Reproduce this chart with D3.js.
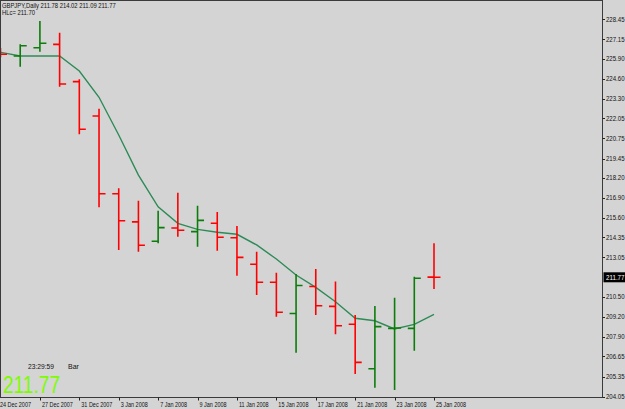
<!DOCTYPE html>
<html><head><meta charset="utf-8">
<script src="https://cdn.jsdelivr.net/npm/d3@7"></script>
<style>
html,body{margin:0;padding:0;background:#d4d4d4;}
svg{display:block;}
text{font-family:"Liberation Sans",Arial,sans-serif;}
</style></head>
<body>
<svg id="c" width="625" height="409"></svg>
<script>
// ---- data ----
const dates = ["24 Dec 2007","26 Dec 2007","27 Dec 2007","28 Dec 2007","31 Dec 2007","2 Jan 2008","3 Jan 2008","4 Jan 2008","7 Jan 2008","8 Jan 2008","9 Jan 2008","10 Jan 2008","11 Jan 2008","14 Jan 2008","15 Jan 2008","16 Jan 2008","17 Jan 2008","18 Jan 2008","21 Jan 2008","22 Jan 2008","23 Jan 2008","24 Jan 2008","25 Jan 2008"];
const open  = [226.40,226.08,226.61,226.83,224.42,222.20,217.17,215.35,214.10,214.96,214.72,215.26,214.33,212.61,211.45,209.43,211.17,209.89,208.73,205.86,208.47,208.47,211.78];
const high  = [226.60,226.83,228.34,227.58,224.57,222.67,217.52,216.72,216.08,217.24,216.40,215.99,215.09,213.42,212.07,211.98,212.31,211.49,209.33,209.91,210.45,211.81,213.97];
const low   = [226.00,225.39,226.36,224.09,221.02,216.30,213.53,213.42,213.97,214.39,213.75,213.49,211.87,210.63,209.22,206.89,209.33,208.08,205.52,204.63,204.48,207.02,211.01];
const close = [226.19,226.74,226.90,224.27,221.34,217.17,215.43,213.84,214.98,214.81,215.45,214.36,213.06,211.45,209.51,211.24,209.93,208.64,206.27,208.58,208.49,211.71,211.77];
const ma    = [226.32,226.08,226.08,226.08,225.11,223.41,220.97,218.38,216.33,215.26,214.87,214.68,214.55,213.86,212.95,211.92,211.12,210.19,209.12,208.96,208.43,208.73,209.38];
const priceTicks = ["228.45","227.15","225.90","224.60","223.30","222.05","220.75","219.45","218.20","216.90","215.60","214.35","213.05","210.50","209.20","207.90","206.65","205.35","204.05"];
const dateTickIdx = [0,2,4,6,8,10,12,14,16,18,20,22];
const dateTickLabels = ["24 Dec 2007","27 Dec 2007","31 Dec 2007","3 Jan 2008","7 Jan 2008","9 Jan 2008","11 Jan 2008","15 Jan 2008","17 Jan 2008","21 Jan 2008","23 Jan 2008","25 Jan 2008"];
const currentPrice = 211.77;
const legendLine1 = "GBPJPY,Daily  211.78 214.02 211.09 211.77";
const legendLine2 = "HLc= 211.70";
const timerText = "23:29:59", timerLabel = "Bar";

// ---- layout ----
const W = 625, H = 409;
const plotR = 602.5, plotB = 397.5;
const svg = d3.select("#c");
const x = d3.scaleLinear().domain([0, 22]).range([0.5, 434]);
const y = d3.scaleLinear().domain([204.05, 228.45]).range([396.7, 19.3]);

function squeeze(sel, f) {
  sel.each(function() {
    const L = this.getComputedTextLength();
    d3.select(this).attr("textLength", L * f).attr("lengthAdjust", "spacingAndGlyphs");
  });
}

svg.append("rect").attr("width", W).attr("height", H).attr("fill", "#d4d4d4");

svg.append("defs").append("clipPath").attr("id","clip")
  .append("rect").attr("x",1).attr("y",1).attr("width",plotR-1).attr("height",plotB-1);

const plot = svg.append("g").attr("clip-path","url(#clip)");

// MA line
plot.append("path")
  .datum(ma)
  .attr("fill","none")
  .attr("stroke","#2e8b57")
  .attr("stroke-width",1.4)
  .attr("d", d3.line().x((d,i)=>x(i)).y(d=>y(d)));

// OHLC bars
const bars = plot.selectAll("g.bar").data(dates.map((d,i)=>({i,o:open[i],h:high[i],l:low[i],c:close[i]})))
  .enter().append("g").attr("class","bar");
const col = d => d.c >= d.o ? "#0a7d0a" : "#ff0000";
bars.append("line")
  .attr("x1", d=>x(d.i)).attr("x2", d=>x(d.i))
  .attr("y1", d=>y(d.h)).attr("y2", d=>y(d.l))
  .attr("stroke", col).attr("stroke-width", 1.6);
bars.append("line")
  .attr("x1", d=>x(d.i)-6.5).attr("x2", d=>x(d.i))
  .attr("y1", d=>y(d.o)).attr("y2", d=>y(d.o))
  .attr("stroke", col).attr("stroke-width", 1.6);
bars.append("line")
  .attr("x1", d=>x(d.i)).attr("x2", d=>x(d.i)+6.5)
  .attr("y1", d=>y(d.c)).attr("y2", d=>y(d.c))
  .attr("stroke", col).attr("stroke-width", 1.6);

// frame
svg.append("rect").attr("x",0.5).attr("y",0.5).attr("width",plotR-0.5).attr("height",plotB-0.5)
  .attr("fill","none").attr("stroke","#3a3a3a").attr("stroke-width",1);

// right price axis
const ya = svg.append("g");
ya.selectAll("line").data(priceTicks).enter().append("line")
  .attr("x1",plotR).attr("x2",plotR+2.5)
  .attr("y1",d=>Math.round(y(+d))+0.5).attr("y2",d=>Math.round(y(+d))+0.5)
  .attr("stroke","#222");
ya.selectAll("text").data(priceTicks).enter().append("text")
  .attr("x",plotR+3.5).attr("y",d=>y(+d)+2.3)
  .attr("font-size","6.5px").attr("fill","#111").text(d=>d)
  .attr("textLength",18.5).attr("lengthAdjust","spacingAndGlyphs");

// current price marker
const cy = y(currentPrice);
svg.append("rect").attr("x",plotR+1).attr("y",cy-5).attr("width",W-plotR-1).attr("height",10).attr("fill","#000");
svg.append("text").attr("x",plotR+3.5).attr("y",cy+2.4).attr("font-size","6.5px").attr("fill","#fff")
  .attr("textLength",18.5).attr("lengthAdjust","spacingAndGlyphs").text(currentPrice.toFixed(2));

// bottom date axis
const xa = svg.append("g");
xa.selectAll("line").data(dateTickIdx.slice(1)).enter().append("line")
  .attr("x1",d=>Math.round(x(d))+0.5).attr("x2",d=>Math.round(x(d))+0.5)
  .attr("y1",plotB).attr("y2",plotB+3).attr("stroke","#222");
const dl = xa.selectAll("text").data(dateTickIdx).enter().append("text")
  .attr("x",(d,i)=> i===0 ? 0 : x(d)+2).attr("y",406.5)
  .attr("font-size","6.5px").attr("fill","#111")
  .text((d,i)=>dateTickLabels[i]);
squeeze(dl, 0.84);

// legend
const l1 = svg.append("text").attr("x",2).attr("y",8).attr("font-size","6.5px").attr("fill","#111").text(legendLine1);
const l2 = svg.append("text").attr("x",2).attr("y",14.5).attr("font-size","6.5px").attr("fill","#111").text(legendLine2);
squeeze(l1, 0.9); squeeze(l2, 0.9);

// timer
const t1 = svg.append("text").attr("x",28).attr("y",368.5).attr("font-size","7px").attr("fill","#111").text(timerText);
const t2 = svg.append("text").attr("x",68).attr("y",368.5).attr("font-size","7px").attr("fill","#111").text(timerLabel);
squeeze(t1, 0.95);

// big price
svg.append("text").attr("x",3).attr("y",393).attr("font-size","23px").attr("fill","#7cfc00")
  .attr("textLength",57).attr("lengthAdjust","spacingAndGlyphs").text(currentPrice.toFixed(2));
</script>
</body></html>
